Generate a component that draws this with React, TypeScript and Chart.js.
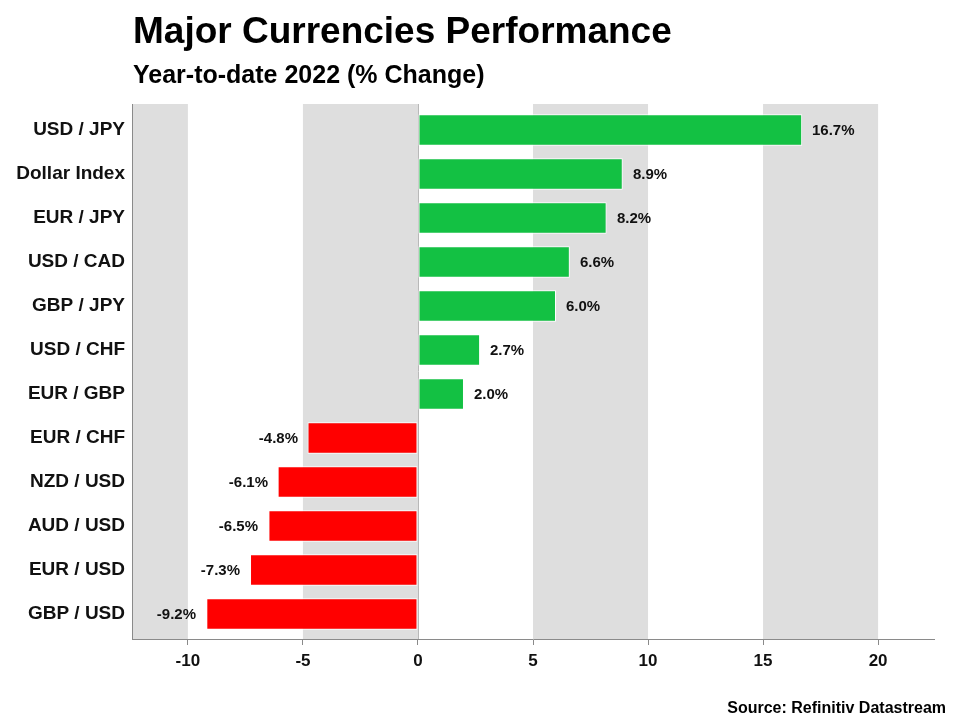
import React, { useEffect, useRef } from 'react';
import { Chart, registerables } from 'chart.js';

Chart.register(...registerables);

const categories = [
  'USD / JPY', 'Dollar Index', 'EUR / JPY', 'USD / CAD', 'GBP / JPY', 'USD / CHF',
  'EUR / GBP', 'EUR / CHF', 'NZD / USD', 'AUD / USD', 'EUR / USD', 'GBP / USD',
];
const values = [16.7, 8.9, 8.2, 6.6, 6.0, 2.7, 2.0, -4.8, -6.1, -6.5, -7.3, -9.2];
const xTicks = [-10, -5, 0, 5, 10, 15, 20];
const xMin = -12.43;
const xMax = 22.43;
const grayBands: [number, number][] = [[xMin, -10], [-5, 0], [5, 10], [15, 20]];

const titleText = 'Major Currencies Performance';
const subtitleText = 'Year-to-date 2022 (% Change)';
const sourceText = 'Source: Refinitiv Datastream';

const FONT = '"Liberation Sans", Arial, Helvetica, sans-serif';
const GREEN = '#13c143';
const RED = '#ff0000';
const BAND = '#dedede';
const AXIS = '#8a8a8a';
const TEXT = '#111111';

export default function App() {
  const ref = useRef<HTMLCanvasElement | null>(null);

  useEffect(() => {
    document.body.style.margin = '0';
    const canvas = ref.current;
    if (!canvas) return;

    const decorPlugin = {
      id: 'decor',
      afterLayout(chart: any) {
        const y = chart.scales.y;
        y._startPixel = y.top + 4;
        y._endPixel = y.bottom - 3;
        y._length = y._endPixel - y._startPixel;
      },
      beforeDraw(chart: any) {
        const { ctx, chartArea } = chart;
        const x = chart.scales.x;
        ctx.save();
        ctx.fillStyle = BAND;
        grayBands.forEach(([a, b]) => {
          const x1 = x.getPixelForValue(a);
          const x2 = x.getPixelForValue(b);
          ctx.fillRect(x1, chartArea.top, x2 - x1, chartArea.bottom - chartArea.top);
        });
        ctx.restore();
      },
      beforeDatasetsDraw(chart: any) {
        const { ctx, chartArea } = chart;
        const x0 = Math.round(chart.scales.x.getPixelForValue(0)) + 0.5;
        ctx.save();
        ctx.strokeStyle = '#b8b8b8';
        ctx.lineWidth = 1;
        ctx.beginPath();
        ctx.moveTo(x0, chartArea.top);
        ctx.lineTo(x0, chartArea.bottom);
        ctx.stroke();
        ctx.restore();
      },
      afterDatasetsDraw(chart: any) {
        const { ctx } = chart;
        const meta = chart.getDatasetMeta(0);
        ctx.save();
        ctx.font = `bold 15px ${FONT}`;
        ctx.fillStyle = TEXT;
        ctx.textBaseline = 'middle';
        meta.data.forEach((bar: any, i: number) => {
          const v = values[i];
          const label = `${v.toFixed(1)}%`;
          if (v >= 0) {
            ctx.textAlign = 'left';
            ctx.fillText(label, Math.round(bar.x + 10), Math.round(bar.y + 1));
          } else {
            ctx.textAlign = 'right';
            ctx.fillText(label, Math.round(bar.x - 10), Math.round(bar.y + 1));
          }
        });
        ctx.restore();
      },
      afterDraw(chart: any) {
        const { ctx } = chart;
        ctx.save();
        ctx.fillStyle = '#000';
        ctx.textBaseline = 'alphabetic';
        ctx.textAlign = 'left';
        ctx.font = `bold 37px ${FONT}`;
        ctx.fillText(titleText, 133, 43);
        ctx.font = `bold 25px ${FONT}`;
        ctx.fillText(subtitleText, 133, 83);
        ctx.textAlign = 'right';
        ctx.font = `bold 16px ${FONT}`;
        ctx.fillText(sourceText, 946, 713);
        ctx.restore();
      },
    };

    const chart = new Chart(canvas, {
      type: 'bar',
      data: {
        labels: categories,
        datasets: [
          {
            data: values,
            backgroundColor: values.map((v) => (v >= 0 ? GREEN : RED)),
            borderColor: '#ffffff',
            borderWidth: 1,
            borderSkipped: false,
            categoryPercentage: 0.9,
            barPercentage: 0.8,
          },
        ],
      },
      options: {
        indexAxis: 'y',
        responsive: false,
        animation: false,
        layout: { padding: { top: 104, right: 26, left: 0, bottom: 0 } },
        plugins: {
          legend: { display: false },
          title: { display: false },
          tooltip: { enabled: false },
        },
        scales: {
          x: {
            type: 'linear',
            min: xMin,
            max: xMax,
            afterBuildTicks: (s: any) => {
              s.ticks = xTicks.map((v) => ({ value: v }));
            },
            afterFit: (s: any) => {
              s.height = 81;
            },
            grid: {
              display: true,
              drawOnChartArea: false,
              drawTicks: true,
              tickLength: 6,
              color: AXIS,
            },
            border: { display: true, color: AXIS, width: 1 },
            ticks: {
              color: TEXT,
              padding: 6,
              maxRotation: 0,
              font: { family: FONT, size: 17, weight: 'bold', lineHeight: 1.2 },
            },
          },
          y: {
            type: 'category',
            afterFit: (s: any) => {
              s.width = 132;
            },
            grid: { display: false, drawTicks: false },
            border: { display: true, color: AXIS, width: 1 },
            ticks: {
              color: TEXT,
              padding: 7,
              font: { family: FONT, size: 19, weight: 'bold' },
            },
          },
        },
      },
      plugins: [decorPlugin],
    } as any);

    return () => chart.destroy();
  }, []);

  return (
    <div style={{ width: 960, height: 720, position: 'relative' }}>
      <canvas ref={ref} width={960} height={720} style={{ display: 'block', width: 960, height: 720 }} />
    </div>
  );
}
